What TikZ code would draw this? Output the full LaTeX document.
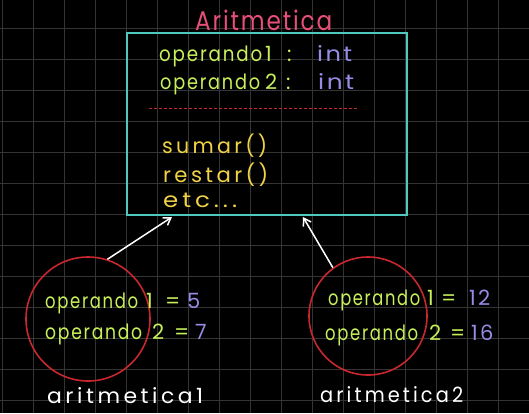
\documentclass[tikz,border=0pt]{standalone}
\usepackage{fontspec}
\usepackage{graphicx}
\setmainfont{Poppins}
\newfontfamily\hand[LetterSpace=10]{Poppins}
\newfontfamily\handw[LetterSpace=16]{Poppins}
\newfontfamily\handt[LetterSpace=8]{Poppins}
\newcommand\fitw[2]{\resizebox{#1pt}{\height}{#2}}
\usetikzlibrary{arrows.meta}
\definecolor{gridc}{RGB}{52,52,52}
\definecolor{lime}{RGB}{200,240,90}
\definecolor{lav}{RGB}{150,140,230}
\definecolor{yel}{RGB}{240,210,70}
\definecolor{pinkt}{RGB}{230,80,120}
\definecolor{cyanb}{RGB}{80,200,190}
\definecolor{redc}{RGB}{200,40,45}
\begin{document}
\begin{tikzpicture}[x=1pt,y=-1pt,
  txt/.style={anchor=base west, inner sep=0pt, font=\hand\fontsize{21}{21}\selectfont},
  wtxt/.style={anchor=base west, inner sep=0pt, font=\handw\fontsize{21}{21}\selectfont},
  gline/.style={draw=gridc, line width=0.8pt},
  objc/.style={circle, draw=redc, line width=1.6pt, inner sep=0pt},
  arr/.style={draw=white, line width=1.5pt, -{Straight Barb[length=7pt,width=9pt]}}]
\fill[black] (0,0) rectangle (529,413);
\useasboundingbox (0,0) rectangle (529,413);
\foreach \i in {0,...,17} \draw[gline] ({2+31*\i},0) -- ({2+31*\i},413);
\foreach \j in {0,...,12} \draw[gline] (0,{28+31*\j}) -- (529,{28+31*\j});
% class box
\node[draw=cyanb, line width=1.6pt, minimum width=280pt, minimum height=182pt, inner sep=0pt] (box) at (267,124) {};
\node[anchor=base west, inner sep=0pt, text=pinkt, font=\handt\fontsize{27}{27}\selectfont] (title) at (195,30) {\fitw{137}{Aritmetica}};
\node[txt, text=lime] (op1) at (159,61) {\fitw{103}{operando}};
\node[txt, text=lime] (d1) at (265,61) {1};
\node[txt, text=lime] (col1) at (287,61) {:};
\node[txt, text=lav] (int1) at (317,61) {\fitw{35}{int}};
\node[txt, text=lime] (op2) at (160,89) {\fitw{100}{operando}};
\node[txt, text=lime] (d2) at (265,89) {2};
\node[txt, text=lime] (col2) at (286,89) {:};
\node[txt, text=lav] (int2) at (318,89) {\fitw{36}{int}};
\coordinate (dl) at (149,108);
\coordinate (dr) at (357,108);
\draw[redc, line width=1pt, dash pattern=on 3pt off 2pt] (dl) -- (dr);
\node[wtxt, text=yel] (m1) at (162,153) {\fitw{105}{sumar()}};
\node[wtxt, text=yel] (m2) at (163,182) {\fitw{105}{restar()}};
\node[wtxt, text=yel] (m3) at (163,207) {\fitw{74}{etc...}};
% objects
\node[objc, minimum size=124pt] (c1) at (88,319) {};
\node[objc, minimum size=118pt] (c2) at (368,316) {};
\node[txt, text=lime] (a1) at (45,308) {\fitw{93}{operando}};
\node[txt, text=lime] (a1n) at (146,308) {1};
\node[txt, text=lime] (a1e) at (165,308) {=};
\node[txt, text=lav] (a1v) at (187,308) {5};
\node[txt, text=lime] (a2) at (45,339) {\fitw{97}{operando}};
\node[txt, text=lime] (a2n) at (152,339) {2};
\node[txt, text=lime] (a2e) at (174,339) {=};
\node[txt, text=lav] (a2v) at (195,339) {7};
\node[txt, text=lime] (b1) at (328,305) {\fitw{92}{operando}};
\node[txt, text=lime] (b1n) at (427,305) {1};
\node[txt, text=lime] (b1e) at (441,305) {=};
\node[txt, text=lav] (b1v) at (469,305) {12};
\node[txt, text=lime] (b2) at (325,340) {\fitw{93}{operando}};
\node[txt, text=lime] (b2n) at (429,340) {2};
\node[txt, text=lime] (b2e) at (450,340) {=};
\node[txt, text=lav] (b2v) at (471,340) {16};
\node[wtxt, text=white] (n1) at (47,403) {\fitw{156}{aritmetica1}};
\node[wtxt, text=white] (n2) at (320,402) {\fitw{143}{aritmetica2}};
% connectors
\coordinate (e1) at (172,217);
\coordinate (e2) at (303,217);
\draw[arr] (c1.72) -- (e1);
\draw[arr] (c2.126) -- (e2);
\end{tikzpicture}
\end{document}
